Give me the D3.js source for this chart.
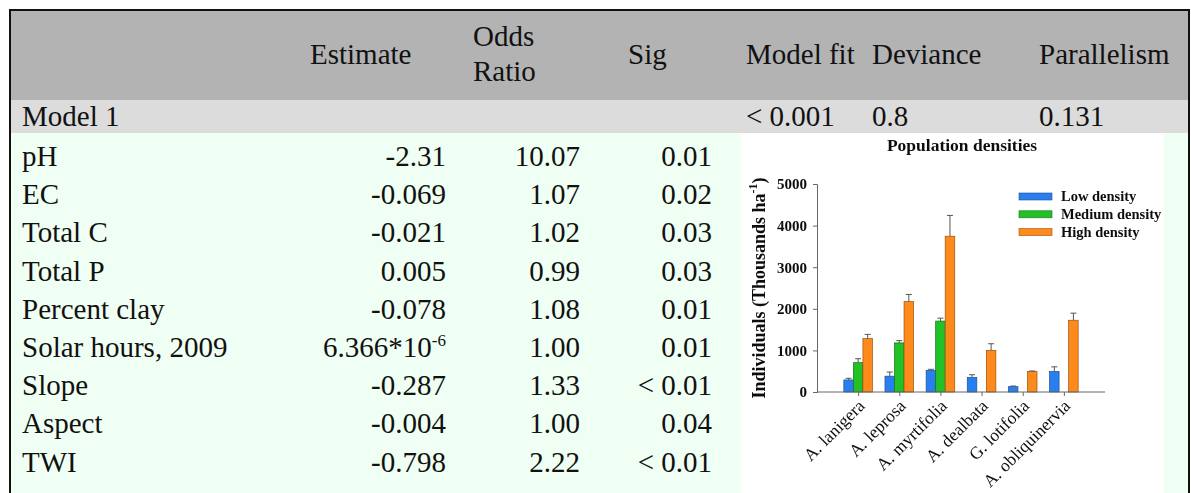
<!DOCTYPE html>
<html>
<head>
<meta charset="utf-8">
<script src="https://cdn.jsdelivr.net/npm/d3@7"></script>
<style>
  html, body { margin: 0; padding: 0; background: #ffffff; }
  svg { display: block; }
</style>
</head>
<body>
<svg id="main" width="1191" height="493"></svg>
<script>
// ---- Table content ----
const headerCols = ["Estimate", "Odds|Ratio", "Sig", "Model fit", "Deviance", "Parallelism"];
const modelLabel = "Model 1";
const modelStats = ["< 0.001", "0.8", "0.131"];
const variables = ["pH", "EC", "Total C", "Total P", "Percent clay", "Solar hours, 2009", "Slope", "Aspect", "TWI"];
const estimates = ["-2.31", "-0.069", "-0.021", "0.005", "-0.078", "6.366*10^-6", "-0.287", "-0.004", "-0.798"];
const oddsRatios = ["10.07", "1.07", "1.02", "0.99", "1.08", "1.00", "1.33", "1.00", "2.22"];
const sigValues = ["0.01", "0.02", "0.03", "0.03", "0.01", "0.01", "< 0.01", "0.04", "< 0.01"];

// ---- Inset chart data: population densities (thousands per ha) ----
const species = ["A. lanigera", "A. leprosa", "A. myrtifolia", "A. dealbata", "G. lotifolia", "A. obliquinervia"];
const densityClasses = ["Low density", "Medium density", "High density"];
const lowDensity = [290, 380, 520, 350, 128, 495];
const mediumDensity = [705, 1180, 1705, null, null, null];
const highDensity = [1285, 2175, 3745, 1000, 490, 1725];
const lowErr = [40, 100, 25, 65, 15, 110];
const mediumErr = [95, 55, 70, null, null, null];
const highErr = [100, 170, 500, 160, 15, 170];
const yTicks = [0, 1000, 2000, 3000, 4000, 5000];

const svg = d3.select("#main");
const serif = "'Liberation Serif', 'Times New Roman', serif";

// ---- Table layout ----
const T = { left: 10, right: 1189, top: 10, headBottom: 100, modelBottom: 133 };
const colLeft = [310, 473, 628, 746, 872, 1039];
const numRight = [446, 580, 712];
const fs = 29;

svg.append("rect").attr("x", T.left).attr("y", T.top + 1)
  .attr("width", T.right - T.left).attr("height", T.headBottom - T.top - 1).attr("fill", "#b3b3b3");
svg.append("rect").attr("x", T.left).attr("y", T.headBottom)
  .attr("width", T.right - T.left).attr("height", T.modelBottom - T.headBottom).attr("fill", "#dcdcdc");
svg.append("rect").attr("x", T.left).attr("y", T.modelBottom)
  .attr("width", T.right - T.left).attr("height", 493 - T.modelBottom).attr("fill", "#f0fff3");

// outer border (open at the bottom edge of the view)
svg.append("path")
  .attr("d", `M${T.left},500 V${T.top} H${T.right} V500`)
  .attr("fill", "none").attr("stroke", "#111").attr("stroke-width", 2);

const txt = (x, y, s, anchor) => svg.append("text")
  .attr("x", x).attr("y", y).attr("text-anchor", anchor || "start")
  .attr("font-family", serif).attr("font-size", fs).attr("fill", "#111").text(s);

// header
headerCols.forEach((h, i) => {
  const parts = h.split("|");
  if (parts.length === 2) {
    txt(colLeft[i], 46, parts[0]);
    txt(colLeft[i], 81, parts[1]);
  } else {
    txt(colLeft[i], 64, h);
  }
});

// model row
txt(22, 126, modelLabel);
modelStats.forEach((s, i) => txt(colLeft[3 + i], 126, s));

// variable rows
const rowY = i => T.modelBottom + 33 + i * 38.2;
variables.forEach((v, i) => {
  const y = rowY(i);
  txt(22, y, v);
  const est = estimates[i];
  if (est.includes("^")) {
    const [base, sup] = est.split("^");
    const t = txt(numRight[0], y, "", "end");
    t.append("tspan").text(base);
    t.append("tspan").attr("dy", -11).attr("font-size", 17).text(sup);
  } else {
    txt(numRight[0], y, est, "end");
  }
  txt(numRight[1], y, oddsRatios[i], "end");
  txt(numRight[2], y, sigValues[i], "end");
});

// ---- Inset bar chart ----
svg.append("rect").attr("x", 741).attr("y", T.modelBottom)
  .attr("width", 423).attr("height", 493 - T.modelBottom).attr("fill", "#ffffff");

const defs = svg.append("defs");
defs.append("filter").attr("id", "soft")
  .append("feGaussianBlur").attr("stdDeviation", 0.45);

const g = svg.append("g").attr("filter", "url(#soft)");
const plot = { x0: 817, x1: 1105, y0: 392, y1: 184 };

const x = d3.scalePoint().domain(species).range([plot.x0, plot.x1]).padding(1);
const inner = d3.scaleBand().domain(densityClasses).range([-14.3, 14.3]);
const y = d3.scaleLinear().domain([0, 5000]).range([plot.y0, plot.y1]);
const colors = d3.scaleOrdinal().domain(densityClasses).range(["#2a7ff0", "#20c226", "#ff8a1a"]);
const strokes = d3.scaleOrdinal().domain(densityClasses).range(["#1d4f95", "#1b6f1e", "#9a5210"]);

const seriesVals = [lowDensity, mediumDensity, highDensity];
const seriesErr = [lowErr, mediumErr, highErr];
const bars = [];
densityClasses.forEach((c, k) => species.forEach((s, i) => {
  if (seriesVals[k][i] != null) bars.push({ c, s, v: seriesVals[k][i], e: seriesErr[k][i] });
}));

g.selectAll("rect.bar").data(bars).join("rect").attr("class", "bar")
  .attr("x", d => x(d.s) + inner(d.c))
  .attr("y", d => y(d.v))
  .attr("width", inner.bandwidth())
  .attr("height", d => y(0) - y(d.v))
  .attr("fill", d => colors(d.c))
  .attr("stroke", d => strokes(d.c)).attr("stroke-width", 0.7);

// error bars (upper whisker with cap)
const cx = d => x(d.s) + inner(d.c) + inner.bandwidth() / 2;
const eb = g.selectAll("g.err").data(bars).join("g").attr("class", "err")
  .attr("stroke", "#555").attr("stroke-width", 1);
eb.append("line").attr("x1", cx).attr("x2", cx)
  .attr("y1", d => y(d.v)).attr("y2", d => y(d.v + d.e));
eb.append("line").attr("x1", d => cx(d) - 3).attr("x2", d => cx(d) + 3)
  .attr("y1", d => y(d.v + d.e)).attr("y2", d => y(d.v + d.e));

// y axis
const yAxis = g.append("g").attr("transform", `translate(${plot.x0},0)`)
  .call(d3.axisLeft(y).tickValues(yTicks).tickSize(4).tickPadding(6).tickFormat(d3.format("d")));
yAxis.select(".domain").attr("stroke", "#666");
yAxis.selectAll(".tick line").attr("stroke", "#666");
yAxis.selectAll(".tick text").attr("font-family", serif).attr("font-size", 15)
  .attr("font-weight", "bold").attr("fill", "#111");

// x axis
const xAxis = g.append("g").attr("transform", `translate(0,${plot.y0})`)
  .call(d3.axisBottom(x).tickSize(4).tickSizeOuter(0));
xAxis.select(".domain").attr("stroke", "#666").attr("d", `M${plot.x0},0H${plot.x1}`);
xAxis.selectAll(".tick line").attr("stroke", "#666");
xAxis.selectAll(".tick text")
  .attr("font-family", serif).attr("font-size", 17.5).attr("fill", "#111")
  .attr("text-anchor", "end").attr("dy", 0)
  .attr("transform", "translate(7,15) rotate(-45)").attr("x", 0).attr("y", 0);

// title
g.append("text").attr("x", 962).attr("y", 151).attr("text-anchor", "middle")
  .attr("font-family", serif).attr("font-size", 17.5).attr("font-weight", "bold")
  .attr("fill", "#111").text("Population densities");

// y axis title
const yt = g.append("text").attr("transform", "translate(765,288) rotate(-90)")
  .attr("text-anchor", "middle").attr("font-family", serif).attr("font-size", 18)
  .attr("font-weight", "bold").attr("fill", "#111");
yt.append("tspan").text("Individuals (Thousands ha");
yt.append("tspan").attr("dy", -8).attr("font-size", 12).text("-1");
yt.append("tspan").attr("dy", 8).text(")");

// legend
const lg = g.append("g");
densityClasses.forEach((c, k) => {
  const ly = 193 + k * 17.8;
  lg.append("rect").attr("x", 1019).attr("y", ly).attr("width", 33).attr("height", 7)
    .attr("fill", colors(c)).attr("stroke", strokes(c)).attr("stroke-width", 0.6);
  lg.append("text").attr("x", 1061).attr("y", ly + 8).attr("font-family", serif)
    .attr("font-size", 14.5).attr("font-weight", "bold").attr("fill", "#111").text(c);
});
</script>
</body>
</html>
